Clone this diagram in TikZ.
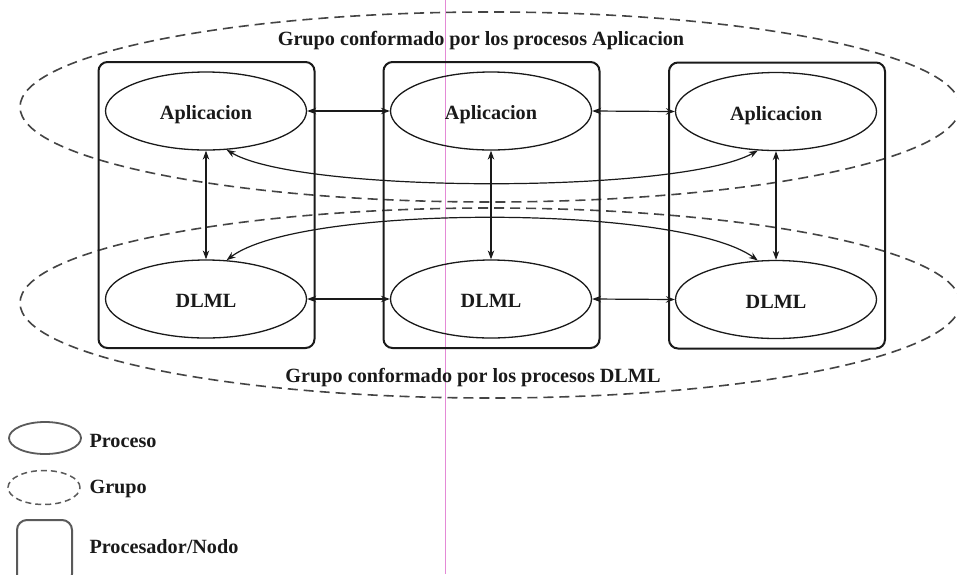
\documentclass[tikz,border=0pt]{standalone}
\usepackage{fontspec}
\setmainfont{Liberation Serif}
\usetikzlibrary{shapes.geometric,arrows.meta}
\definecolor{ink}{HTML}{1A1A1A}
\definecolor{dashink}{HTML}{444444}
\definecolor{legendink}{HTML}{5A5A5A}
\definecolor{marginpink}{HTML}{E48AD6}
\tikzset{
  lbl/.style={font=\fontsize{20.2}{24}\selectfont\bfseries, text=ink},
  procbox/.style={draw=ink, line width=2pt, rounded corners=9pt,
    minimum width=216pt, minimum height=286pt, inner sep=0pt},
  proc/.style={ellipse, draw=ink, line width=1.3pt, minimum width=201pt,
    minimum height=78pt, inner sep=0pt, lbl, text height=18pt, text depth=0.6pt},
  grp/.style={ellipse, draw=dashink, line width=1.6pt,
    dash pattern=on 10pt off 6pt, minimum width=940pt, minimum height=190pt,
    inner sep=0pt},
  link/.style={draw=ink, line width=1.2pt,
    {Stealth[length=9pt,width=6.5pt,inset=3pt]}-{Stealth[length=9pt,width=6.5pt,inset=3pt]}},
}
\begin{document}
\begin{tikzpicture}[x=1pt, y=-1pt]
\useasboundingbox (0,0) rectangle (957,574);
\fill[white] (0,0) rectangle (957,574);
% thin margin rule running down the page
\draw[marginpink, line width=0.8pt] (445,0) -- (445,574);

% group outlines
\node[grp] (gapp) at (490,107) {};
\node[grp] (gdlml) at (490,303) {};

% processor/node frames
\node[procbox] (n1) at (206.5,205) {};
\node[procbox] (n2) at (491.5,205) {};
\node[procbox] (n3) at (777,205.5) {};

% processes
\node[proc] (a1) at (206,111) {Aplicacion};
\node[proc] (a2) at (491,111) {Aplicacion};
\node[proc] (a3) at (776,111.5) {Aplicacion};
\node[proc] (d1) at (206,299) {DLML};
\node[proc] (d2) at (491,299) {DLML};
\node[proc] (d3) at (776,299.5) {DLML};

% group captions
\node[lbl] (tapp) at (481,41) {Grupo conformado por los procesos Aplicacion};
\node[lbl] (tdlml) at (473,378) {Grupo conformado por los procesos DLML};

% communication links
\draw[link] (a1.east) -- (a2.west);
\draw[link] (a2.east) -- (a3.west);
\draw[link] (d1.east) -- (d2.west);
\draw[link] (d2.east) -- (d3.west);
\draw[link] (a1.south) -- (d1.north);
\draw[link] (a2.south) -- (d2.north);
\draw[link] (a3.south) -- (d3.north);
\draw[link] (a1.-62) .. controls (300,194) and (680,194) .. (a3.-115);
\draw[link] (d1.62) .. controls (300,204) and (680,204) .. (d3.115);

% legend
\node[ellipse, draw=legendink, line width=1.8pt, minimum width=72pt,
  minimum height=32pt, inner sep=0pt] (kproc) at (45,438) {};
\node[lbl, anchor=west] (kproct) at (86,441) {Proceso};
\node[ellipse, draw=legendink, line width=1.5pt, dash pattern=on 6pt off 4pt,
  minimum width=72pt, minimum height=34pt, inner sep=0pt] (kgrp) at (44,487.5) {};
\node[lbl, anchor=west] (kgrpt) at (86,489) {Grupo};
\node[draw=legendink, line width=2pt, rounded corners=10pt, minimum width=55pt,
  minimum height=64pt, inner sep=0pt] (knode) at (44.5,552) {};
\node[lbl, anchor=west] (knodet) at (86,547) {Procesador/Nodo};
\end{tikzpicture}
\end{document}
